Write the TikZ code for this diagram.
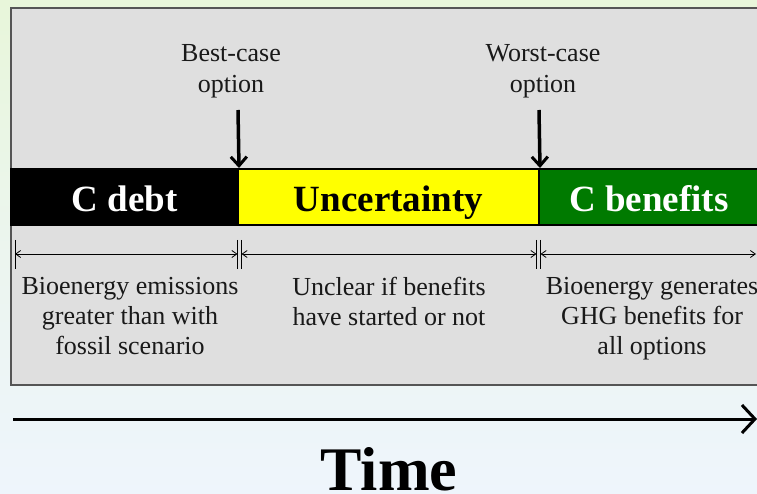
\documentclass[tikz,border=0pt]{standalone}
\usepackage{fontspec}
\setmainfont{Liberation Serif}
\usetikzlibrary{arrows.meta}
\definecolor{bgtop}{HTML}{E8F6DA}
\definecolor{bgbot}{HTML}{EEF5FC}
\definecolor{panelfill}{HTML}{DFDFDF}
\definecolor{panelline}{HTML}{555555}
\definecolor{benefitgreen}{HTML}{007A00}
\definecolor{uncyellow}{HTML}{FFFF00}
\tikzset{
  barseg/.style={draw=black, line width=2pt, minimum height=56pt, inner sep=0pt,
    text height=31pt, text depth=1pt,
    font=\fontsize{37}{40}\selectfont\bfseries},
  caption/.style={align=center, inner sep=0pt, font=\fontsize{26}{31}\selectfont, text=black!90},
  note/.style={align=center, inner sep=0pt, font=\fontsize{26}{30}\selectfont, text=black!90},
  pointer/.style={line width=3.5pt, -{Straight Barb[length=9pt, width=16pt, line width=3pt]}},
  dimline/.style={line width=0.8pt, {Straight Barb[length=5pt, width=7pt]}-{Straight Barb[length=5pt, width=7pt]}},
  tick/.style={line width=0.8pt},
  axis/.style={line width=3pt, -{Straight Barb[length=13pt, width=28pt, line width=3pt]}}
}
\begin{document}
\begin{tikzpicture}[x=1pt, y=-1pt]
  \useasboundingbox (0,0) rectangle (757,494);
  \clip (0,0) rectangle (757,494);
  % backdrop
  \shade[top color=bgtop, bottom color=bgbot, middle color=bgbot!60!bgtop] (0,0) rectangle (757,494);
  % grey panel (runs off the right edge)
  \draw[panelline, fill=panelfill, line width=1.5pt] (11,8) rectangle (780,385);

  % the three phases
  \node[barseg, fill=black, text=white, minimum width=227pt] (debt) at (124.5,197) {C debt};
  \node[barseg, fill=uncyellow, text=black, minimum width=301pt] (unc) at (388.5,197) {Uncertainty};
  \node[barseg, fill=benefitgreen, text=white, minimum width=220pt] (ben) at (649,197) {C benefits};

  % option markers
  \node[caption] (best) at (231,71) {Best-case\\option};
  \node[caption] (worst) at (543,71) {Worst-case\\option};
  \coordinate (bestfoot) at (238,110);
  \coordinate (worstfoot) at (539,110);
  \draw[pointer] (bestfoot) -- (debt.north east);
  \draw[pointer] (worstfoot) -- (unc.north east);

  % dimension ticks
  \coordinate (t0a) at (15,240);    \coordinate (t0b) at (15,269);
  \coordinate (t1a) at (237.5,240); \coordinate (t1b) at (237.5,269);
  \coordinate (t2a) at (241.5,240); \coordinate (t2b) at (241.5,269);
  \coordinate (t3a) at (536.5,240); \coordinate (t3b) at (536.5,269);
  \coordinate (t4a) at (540.5,240); \coordinate (t4b) at (540.5,269);
  \foreach \t in {t0,t1,t2,t3,t4} \draw[tick] (\t a) -- (\t b);

  % dimension lines
  \coordinate (d1l) at (15,254);    \coordinate (d1r) at (237.5,254);
  \coordinate (d2l) at (241.5,254); \coordinate (d2r) at (536.5,254);
  \coordinate (d3l) at (540.5,254); \coordinate (d3r) at (756,254);
  \draw[dimline] (d1l) -- (d1r);
  \draw[dimline] (d2l) -- (d2r);
  \draw[dimline] (d3l) -- (d3r);

  % phase descriptions
  \node[note, anchor=north] (n1) at (130,277) {Bioenergy emissions\\greater than with\\fossil scenario};
  \node[note, anchor=north] (n2) at (389,277) {Unclear if benefits\\have started or not};
  \node[note, anchor=north] (n3) at (652,277) {Bioenergy generates\\GHG benefits for\\all options};

  % time axis
  \coordinate (ax0) at (13,419);
  \coordinate (ax1) at (757,419);
  \draw[axis] (ax0) -- (ax1);
  \node[anchor=base, inner sep=0pt, font=\fontsize{62}{70}\selectfont\bfseries] (time) at (389,490) {Time};
\end{tikzpicture}
\end{document}
